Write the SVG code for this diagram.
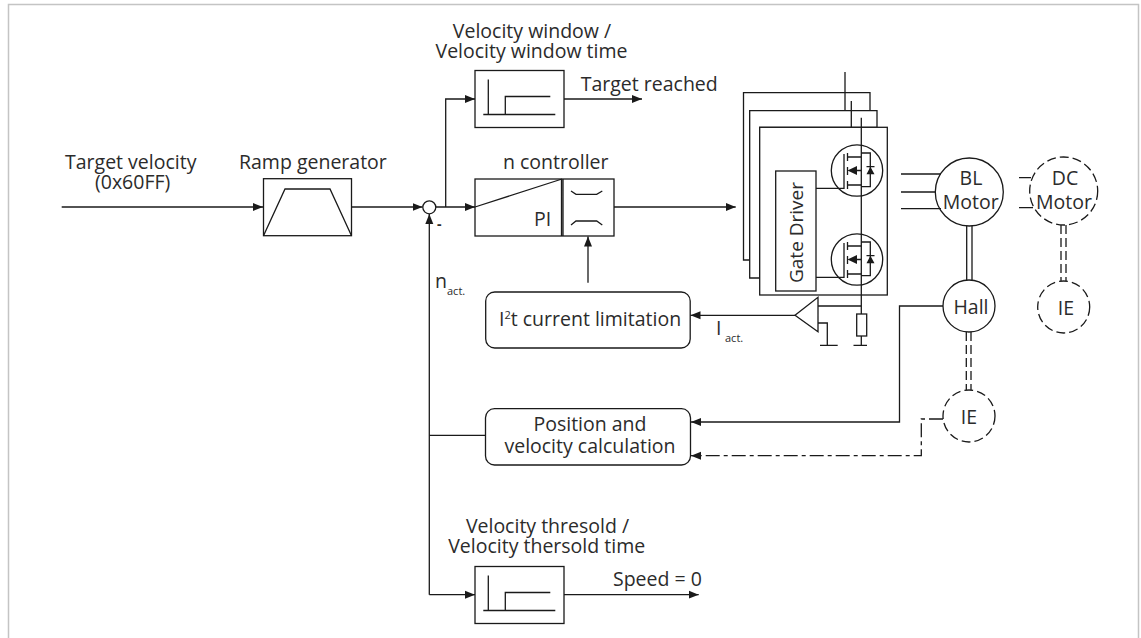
<svg xmlns="http://www.w3.org/2000/svg" xmlns:xlink="http://www.w3.org/1999/xlink" width="1141" height="638" viewBox="0 0 1141 638">
<style>
text{font-family:"Open Sans","Noto Sans","Liberation Sans",sans-serif;font-size:19.500px;fill:#2b2b2b}
.s{font-size:11px}
.m{text-anchor:middle}
.l{fill:none;stroke:#1a1a1a;stroke-width:1.3}
.box{fill:#fff;stroke:#1a1a1a;stroke-width:1.3}
.fill{fill:#1a1a1a;stroke:none}
.dash{stroke-dasharray:9 4}
.dd{stroke-dasharray:14 4 4 4}
</style>
<defs>
<marker id="a" markerUnits="userSpaceOnUse" markerWidth="11" markerHeight="9" refX="10" refY="4.500" orient="auto"><path d="M0 0.500L10 4.500L0 8.500Z" fill="#1a1a1a"/></marker>
<g id="mosfet">
<circle cx="857" cy="170.500" r="25.700" class="l"/>
<path class="l" d="M844 154V189M847.500 153V161M847.500 167V175M847.500 181V189M847.500 157H861M847.500 185H861M857 170.500H861M861 153H870.300V186.700H861M866.500 166.700H874.500"/>
<path class="fill" d="M847.500 170.500L857 166V175ZM870.400 166.700L874.500 174.300H866.500Z"/>
</g>
<g id="step">
<path class="l" d="M13.300 9V44M8.300 44H80.300M30.300 44V26H75.300"/>
</g>
</defs>
<path id="frame" d="M8.500 638V4.500H1138.500V638" fill="none" stroke="#c4c4c4" stroke-width="1.500"/>
<g id="node-ramp"><rect class="box" x="263.500" y="178.700" width="88" height="57"/><path class="l" d="M263.500 235.700L285 189H330L351.500 235.700"/><text x="239" y="169">Ramp generator</text></g>
<g id="node-window"><rect class="box" x="475" y="70.500" width="89" height="57"/><use xlink:href="#step" href="#step" transform="translate(475 70.500)"/><text class="m" x="532" y="38.300">Velocity window /</text><text class="m" x="531.500" y="58.300">Velocity window time</text></g>
<g id="node-controller"><rect class="box" x="475" y="179" width="139" height="57"/><path class="l" d="M475 207L562 179M561.500 179V236M563 179V236M571 191L576 194.300H596.700L602.300 191M571 225L576 221H596.700L602.300 225"/><text x="534" y="225.700">PI</text><text x="503" y="169">n controller</text></g>
<g id="node-limit"><rect class="box" x="485.700" y="292" width="204.500" height="56" rx="9"/><text x="499" y="325.700">I<tspan font-size="11" dy="-7">2</tspan><tspan dy="7">t current limitation</tspan></text></g>
<g id="node-position"><rect class="box" x="485.500" y="408.700" width="205" height="56.300" rx="9"/><text class="m" x="590" y="430.700">Position and</text><text class="m" x="590" y="453">velocity calculation</text></g>
<g id="node-threshold"><rect class="box" x="475" y="566.500" width="89" height="57"/><use xlink:href="#step" href="#step" transform="translate(475 566.500)"/><text class="m" x="547.500" y="533">Velocity thresold /</text><text class="m" x="546.700" y="552.700">Velocity thersold time</text></g>
<g id="node-inverter">
<path class="box" d="M743.500 92.700H870V110.700H749.700V260H743.500Z"/>
<path class="box" d="M749.700 110.700H877V127.300H759.700V278H749.700Z"/>
<rect class="box" x="759.700" y="127.300" width="127.600" height="167.700"/>
<rect class="box" x="775.700" y="171" width="40.300" height="120"/>
<text transform="translate(803 283) rotate(-90)" style="font-size:19px">Gate Driver</text>
<use xlink:href="#mosfet" href="#mosfet"/><use xlink:href="#mosfet" href="#mosfet" transform="translate(0 89)"/>
</g>
<g id="node-amp"><path class="box" d="M795 315.300L818 297.300V331.700Z"/></g>
<g id="node-bl"><circle class="box" cx="969.300" cy="192" r="34"/><text class="m" x="971" y="185">BL</text><text class="m" x="970.700" y="209">Motor</text></g>
<g id="node-hall"><circle class="box" cx="969" cy="306" r="26"/><text class="m" x="971" y="314">Hall</text></g>
<g id="node-dc"><circle class="box dash" cx="1063.700" cy="191" r="34"/><text class="m" x="1065" y="185">DC</text><text class="m" x="1064" y="209">Motor</text></g>
<g id="node-ie1"><circle class="box dash" cx="1063.700" cy="307" r="26"/><text class="m" x="1066" y="315">IE</text></g>
<g id="node-ie2"><circle class="box dash" cx="969" cy="416" r="26"/><text class="m" x="969" y="424">IE</text></g>
<g id="node-junction"><circle class="box" cx="429.300" cy="207.300" r="6.500"/></g>
<g id="connectors">
<path class="l" marker-end="url(#a)" d="M61.700 207H263"/>
<path class="l" marker-end="url(#a)" d="M351.500 207H422.500"/>
<path class="l" marker-end="url(#a)" d="M436 207H475"/>
<path class="l" marker-end="url(#a)" d="M445.700 207V99H475"/>
<path class="l" marker-end="url(#a)" d="M564 99H642"/>
<path class="l" marker-end="url(#a)" d="M614 207H735.700"/>
<path class="l" marker-end="url(#a)" d="M588 282.700V236.500"/>
<path class="l" marker-end="url(#a)" d="M795 315.300H690.500"/>
<path class="l" marker-end="url(#a)" d="M429.300 594.700V214"/>
<path class="l" marker-end="url(#a)" d="M429.300 594.700H475"/>
<path class="l" marker-end="url(#a)" d="M564 594.700H698.700"/>
<path class="l" d="M485.500 435.300H429.300"/>
<path class="l" marker-end="url(#a)" d="M943 306H899.500V422H691"/>
<path class="l dd" marker-end="url(#a)" d="M943 419H921.300V455.700H691"/>
<path class="l" d="M845 72V110.700M851.300 101V127.300M861.300 117.700V345M844 188.300H816M844 277.300H816M818 306H861.300M818 323H827.300V345.300M820 345.300H837.700M853.500 345.300H867"/>
<rect class="box" x="856.700" y="314" width="10" height="22"/>
<path class="l" d="M901 174H941M901 192H935.500M901 208.700H941M1019 177.700H1031M1019 207.700H1033"/>
<path class="l" d="M966.700 226V280M972 226V280"/>
<path class="l dash" d="M1061 225V281M1066 225V281"/>
<path class="l dash" d="M966.300 332V390M971 332V390"/>
</g>
<g id="labels">
<text x="65" y="169">Target velocity</text>
<text x="95" y="189">(0x60FF)</text>
<text x="580.700" y="91">Target reached</text>
<text x="613" y="586">Speed = 0</text>
<text x="437" y="229" style="font-weight:bold;font-size:14px">-</text>
<text x="435" y="288">n</text><text class="s" x="447" y="295">act.</text>
<text x="716" y="335">I</text><text class="s" x="725" y="342">act.</text>
</g>
</svg>
